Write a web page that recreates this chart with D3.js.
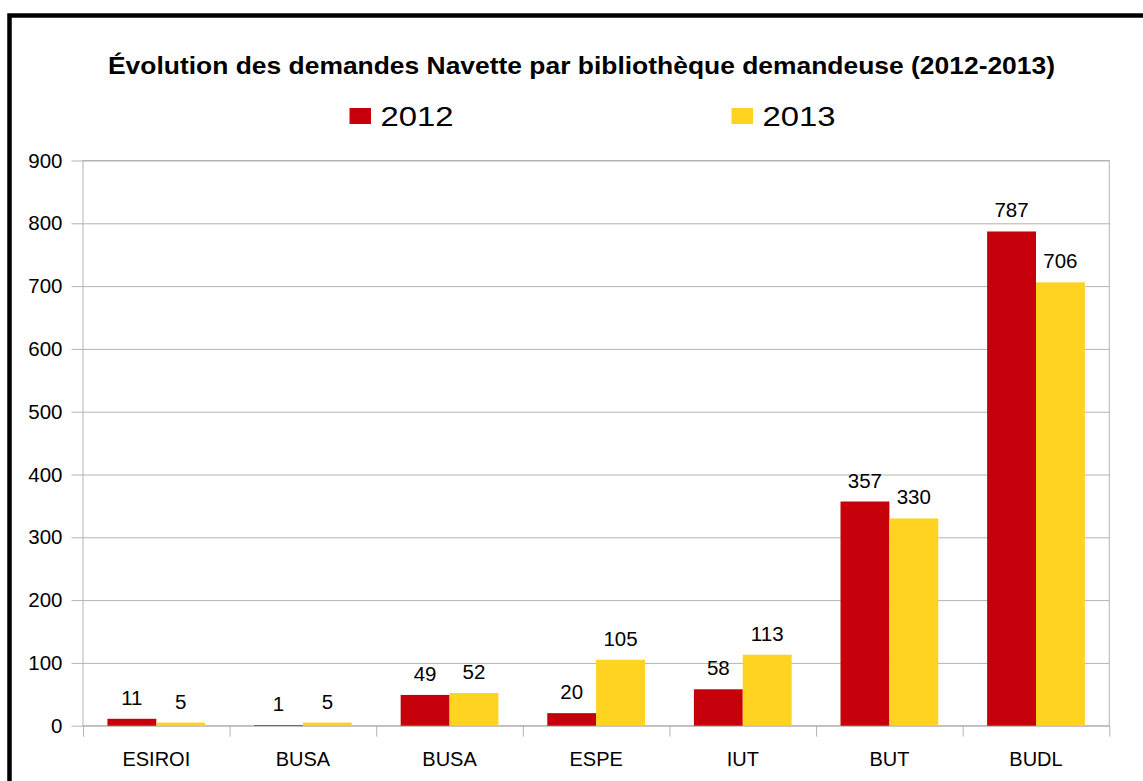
<!DOCTYPE html>
<html>
<head>
<meta charset="utf-8">
<script src="https://cdn.jsdelivr.net/npm/d3@7"></script>
<style>
  body { margin: 0; background: #fff; }
  svg { display: block; }
  text { font-family: "Liberation Sans", Arial, sans-serif; fill: #000; }
</style>
</head>
<body>
<svg id="chart" width="1143" height="781"></svg>
<script>
// données
const categories = ["ESIROI", "BUSA", "BUSA", "ESPE", "IUT", "BUT", "BUDL"];
const series = ["2012", "2013"];
const values2012 = [11, 1, 49, 20, 58, 357, 787];
const values2013 = [5, 5, 52, 105, 113, 330, 706];
const yTicks = [0, 100, 200, 300, 400, 500, 600, 700, 800, 900];
const colors = ["#c5000b", "#ffd320"];

function drawChart() {
    const svg = d3.select("#chart");
    const margin = {top: 160.5, left: 83, right: 33.7, bottom: 55.3};
    const width = 1143 - margin.left - margin.right;
    const height = 781 - margin.top - margin.bottom;

    svg.selectAll("*").remove();

    // cadre noir
    svg.append("rect")
        .attr("x", 9.5).attr("y", 15.5)
        .attr("width", 1200).attr("height", 900)
        .attr("fill", "none")
        .attr("stroke", "#000")
        .attr("stroke-width", 4.5);

    const chart = svg.append("g")
        .attr("transform", `translate(${margin.left},${margin.top})`);

    const idx = d3.range(categories.length);
    const x0 = d3.scaleBand().domain(idx).range([0, width]).padding(0);
    const x1 = d3.scaleBand().domain(series).range([0, x0.bandwidth()])
        .paddingInner(0).paddingOuter(0.5);
    const xEdge = d3.scaleLinear().domain([0, categories.length]).range([0, width]);
    const y = d3.scaleLinear().domain([0, 900]).range([height, 0]);

    // grille + axe vertical
    const yAxis = chart.append("g")
        .call(d3.axisLeft(y).tickValues(yTicks).tickSize(11.5).tickPadding(9));
    yAxis.select(".domain").remove();
    yAxis.selectAll(".tick line")
        .attr("x1", width)
        .attr("stroke", "#b3b3b3");
    yAxis.selectAll(".tick text")
        .style("font-size", "20.5px")
        .attr("font-family", null);

    // bords du graphique
    chart.append("rect")
        .attr("x", 0).attr("y", 0)
        .attr("width", width).attr("height", height)
        .attr("fill", "none")
        .attr("stroke", "#b3b3b3");

    const edgeAxis = chart.append("g")
        .attr("transform", `translate(0,${height})`)
        .call(d3.axisBottom(xEdge).ticks(categories.length).tickSize(11).tickFormat(""));
    edgeAxis.select(".domain").remove();
    edgeAxis.selectAll(".tick line").attr("stroke", "#b3b3b3");

    // barres
    const rows = idx.map(i => ({i, vals: [values2012[i], values2013[i]]}));
    const groups = chart.selectAll(".grp")
        .data(rows)
        .join("g")
        .attr("transform", d => `translate(${x0(d.i)},0)`);

    groups.selectAll("rect")
        .data(d => d.vals.map((v, k) => ({s: series[k], v, k})))
        .join("rect")
        .attr("x", d => x1(d.s))
        .attr("y", d => y(d.v))
        .attr("width", x1.bandwidth())
        .attr("height", d => y(0) - y(d.v))
        .attr("fill", d => colors[d.k]);

    groups.selectAll("text")
        .data(d => d.vals.map((v, k) => ({s: series[k], v})))
        .join("text")
        .attr("x", d => x1(d.s) + x1.bandwidth() / 2)
        .attr("y", d => y(d.v) - 14)
        .attr("text-anchor", "middle")
        .style("font-size", "20.5px")
        .text(d => d.v);

    // étiquettes des catégories
    const xAxis = chart.append("g")
        .attr("transform", `translate(0,${height})`)
        .call(d3.axisBottom(x0).tickSize(0).tickPadding(26).tickFormat(i => categories[i]));
    xAxis.select(".domain").remove();
    xAxis.selectAll(".tick text")
        .style("font-size", "20px")
        .attr("font-family", null);

    // titre
    svg.append("text")
        .attr("x", 581.5)
        .attr("y", 73.5)
        .attr("text-anchor", "middle")
        .attr("textLength", 947)
        .attr("lengthAdjust", "spacingAndGlyphs")
        .style("font-size", "24.5px")
        .style("font-weight", "bold")
        .text("Évolution des demandes Navette par bibliothèque demandeuse (2012-2013)");

    // légende
    const legendX = [349.5, 731.5];
    const legend = svg.append("g");
    series.forEach((s, k) => {
        legend.append("rect")
            .attr("x", legendX[k]).attr("y", 108)
            .attr("width", 21.5).attr("height", 16)
            .attr("fill", colors[k]);
        legend.append("text")
            .attr("x", legendX[k] + 31)
            .attr("y", 126)
            .attr("textLength", 73)
            .attr("lengthAdjust", "spacingAndGlyphs")
            .style("font-size", "27.5px")
            .text(s);
    });
}

drawChart();
</script>
</body>
</html>
